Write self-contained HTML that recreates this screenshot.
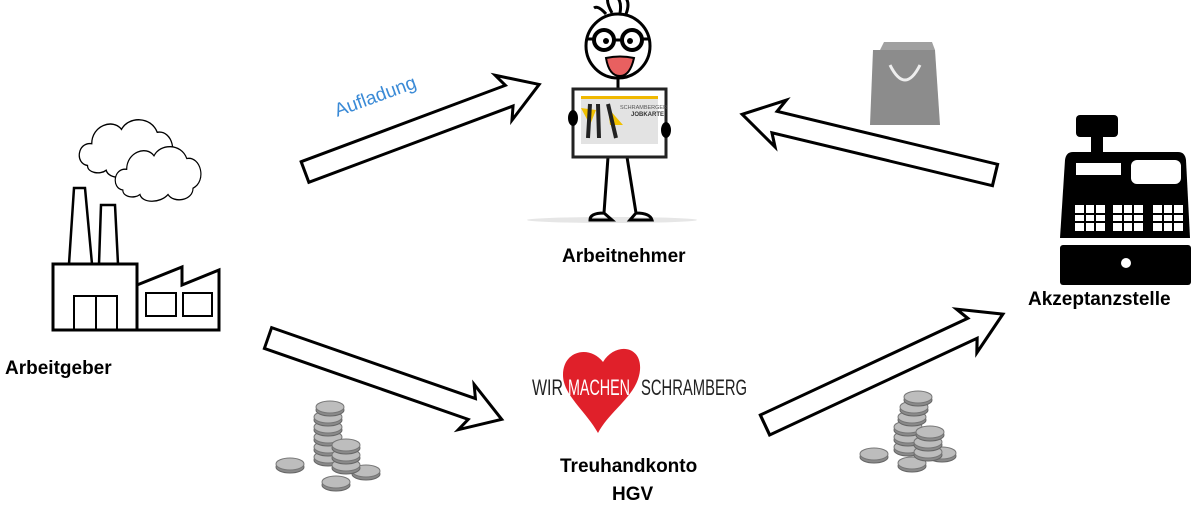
<!DOCTYPE html>
<html><head><meta charset="utf-8"><style>
body{margin:0;background:#fff;width:1200px;height:507px;overflow:hidden}
text{font-family:"Liberation Sans",sans-serif}
</style></head><body>
<svg width="1200" height="507" viewBox="0 0 1200 507" xmlns="http://www.w3.org/2000/svg">
<defs>
<path id="arr" d="M0,-11 L218,-11 L212,-24 L250,0 L212,24 L218,11 L0,11 Z" fill="#fff" stroke="#000" stroke-width="3" stroke-linejoin="miter"/>
<g id="coin"><ellipse cx="0" cy="0" rx="14" ry="6" fill="#8a8a8a" stroke="#666"/><ellipse cx="0" cy="-3" rx="14" ry="6" fill="#bdbdbd" stroke="#777"/></g>
<path id="cloud" d="M10,50 C-5,48 -2,25 15,27 C15,8 40,0 50,12 C58,-2 85,-2 92,15 C110,12 118,40 100,48 C100,62 75,65 68,55 C58,65 35,65 32,55 C25,60 10,58 10,50 Z" fill="#fff" stroke="#000" stroke-width="1.5"/>
</defs>
<g transform="translate(305,172) rotate(-20.5)"><use href="#arr"/></g>
<g transform="translate(268,338) rotate(19.2)"><use href="#arr" transform="scale(0.99,1)"/></g>
<g transform="translate(995,175) rotate(193.5)"><use href="#arr" transform="scale(1.04,1)"/></g>
<g transform="translate(765,425) rotate(-25)"><use href="#arr" transform="scale(1.05,1)"/></g>
<text x="330" y="104" font-size="19" fill="#3a8ad6" transform="rotate(-20 370 90)">Aufladung</text>
<g fill="none" stroke="#000" stroke-width="3">
<path d="M53,264 H137 V330 H53 Z"/>
<path d="M137,330 V285 L182,267 V285 L219,270 V330 Z"/>
<path d="M69,264 L74,188 H85 L92,264 M99,264 L101,205 H115 L118,264" stroke-width="2.5"/>
<rect x="74" y="296" width="43" height="34" stroke-width="2"/><path d="M96,296 V330" stroke-width="2"/>
<rect x="146" y="293" width="30" height="23" stroke-width="2"/><rect x="183" y="293" width="29" height="23" stroke-width="2"/>
</g>
<use href="#cloud" transform="translate(79,118) scale(0.85,0.95)"/>
<use href="#cloud" transform="translate(115,145) scale(0.78,0.9)"/>
<text x="5" y="374" font-size="19" font-weight="bold">Arbeitgeber</text>
<ellipse cx="612" cy="220" rx="85" ry="3" fill="#e6e6e6"/>
<g stroke="#000" stroke-width="3" fill="none">
<circle cx="618" cy="46" r="32" fill="#fff"/>
<path d="M606,14 Q598,5 594,8 M612,13 Q606,2 608,-3 M620,13 Q622,2 617,-3 M626,14 Q630,4 626,-2"/>
<circle cx="604" cy="40" r="10" stroke-width="4"/><circle cx="632" cy="40" r="10" stroke-width="4"/><path d="M614,40 H622 M594,39 H588 M642,39 H648"/>
<path d="M618,78 V88 M608,157 L604,213 M627,157 L636,213 M604,213 Q590,213 590,220 H612 Z M636,213 Q650,213 652,220 H630 Z"/>
</g>
<path d="M606,58 Q620,55 634,58 Q630,76 620,76 Q609,76 606,58 Z" fill="#e86060" stroke="#000" stroke-width="2"/>
<circle cx="606" cy="41" r="3"/><circle cx="630" cy="41" r="3"/>
<rect x="573" y="89" width="93" height="68" fill="#fff" stroke="#222" stroke-width="3"/>
<rect x="581" y="96" width="77" height="48" fill="#e3e3e3"/>
<rect x="581" y="96" width="77" height="3" fill="#f0b800"/>
<path d="M581,108 L596,110 L590,125 Z M608,108 L623,125 L610,125 Z" fill="#f0c000"/>
<path d="M590,104 L588,138 M598,104 L599,138 M608,104 L616,138" stroke="#222" stroke-width="4"/>
<text x="620" y="109" font-size="5.5" fill="#555">SCHRAMBERGER</text><text x="631" y="116" font-size="6" font-weight="bold" fill="#333">JOBKARTE</text>
<ellipse cx="573" cy="118" rx="5" ry="8" fill="#000"/><ellipse cx="666" cy="130" rx="5" ry="8" fill="#000"/>
<text x="562" y="262" font-size="19" font-weight="bold">Arbeitnehmer</text>
<path d="M873,50 H935 L940,125 H870 Z" fill="#8c8c8c"/><path d="M880,50 L884,42 H932 L935,50" fill="#a0a0a0"/>
<path d="M890,65 Q905,95 920,65" fill="none" stroke="#eee" stroke-width="3"/>
<rect x="1076" y="115" width="42" height="22" rx="4"/><rect x="1091" y="135" width="12" height="20"/>
<path d="M1073,152 H1178 Q1185,152 1186,160 L1190,238 H1060 L1065,160 Q1066,152 1073,152 Z"/>
<rect x="1060" y="245" width="131" height="40" rx="3"/>
<circle cx="1126" cy="263" r="5" fill="#fff"/>
<rect x="1076" y="163" width="45" height="12" fill="#fff"/><rect x="1131" y="160" width="50" height="24" rx="6" fill="#fff"/>
<g fill="#fff">
<rect x="1075" y="205" width="30" height="26"/><rect x="1113" y="205" width="30" height="26"/><rect x="1153" y="205" width="30" height="26"/>
</g>
<g stroke="#000" stroke-width="2"><path d="M1085,205V231M1095,205V231M1123,205V231M1133,205V231M1163,205V231M1173,205V231M1075,214H1183M1075,222H1183"/></g>
<text x="1028" y="305" font-size="19" font-weight="bold">Akzeptanzstelle</text>
<path d="M598,433 C585,410 563,395 563,375 C563,350 590,345 603,362 C615,342 642,345 640,370 C638,395 610,410 598,433 Z" fill="#e0202a"/>
<text x="532" y="395" font-size="22" fill="#222" textLength="31" lengthAdjust="spacingAndGlyphs">WIR</text>
<text x="568" y="395" font-size="22" fill="#fff" textLength="62" lengthAdjust="spacingAndGlyphs">MACHEN</text>
<text x="641" y="395" font-size="22" fill="#222" textLength="106" lengthAdjust="spacingAndGlyphs">SCHRAMBERG</text>
<text x="560" y="472" font-size="19" font-weight="bold">Treuhandkonto</text>
<text x="612" y="500" font-size="19" font-weight="bold">HGV</text>
<g>
<use href="#coin" x="290" y="467"/><use href="#coin" x="336" y="485"/><use href="#coin" x="366" y="474"/>
<use href="#coin" x="328" y="460"/><use href="#coin" x="328" y="450"/><use href="#coin" x="328" y="440"/><use href="#coin" x="328" y="430"/><use href="#coin" x="328" y="420"/><use href="#coin" x="330" y="410"/>
<use href="#coin" x="346" y="468"/><use href="#coin" x="346" y="458"/><use href="#coin" x="346" y="448"/>
<use href="#coin" x="874" y="457"/><use href="#coin" x="912" y="466"/><use href="#coin" x="942" y="456"/>
<use href="#coin" x="908" y="450"/><use href="#coin" x="908" y="440"/><use href="#coin" x="908" y="430"/><use href="#coin" x="912" y="420"/><use href="#coin" x="914" y="410"/><use href="#coin" x="918" y="400"/>
<use href="#coin" x="928" y="455"/><use href="#coin" x="928" y="445"/><use href="#coin" x="930" y="435"/>
</g>
</svg>
</body></html>
